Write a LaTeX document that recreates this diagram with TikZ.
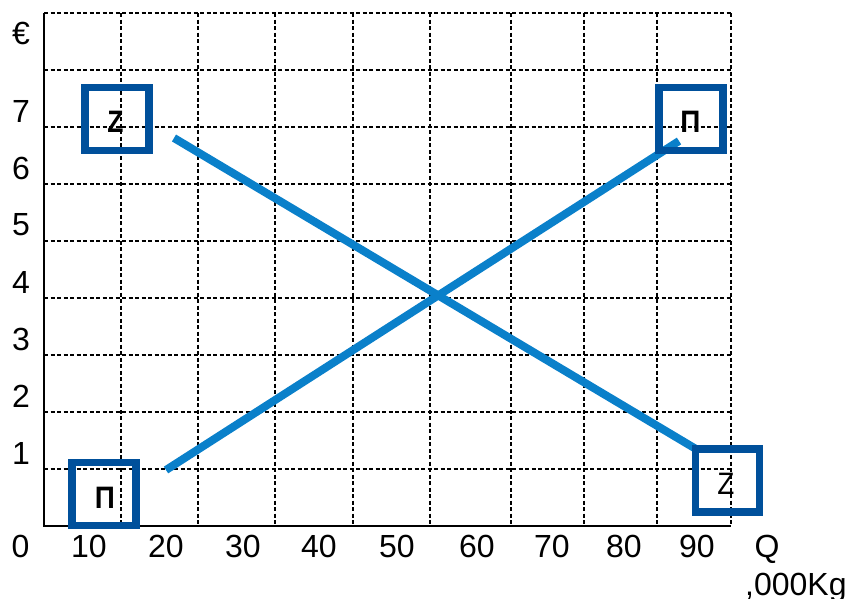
\documentclass[tikz,border=0pt]{standalone}
\usepackage{fontspec}
\setmainfont{Liberation Sans}
\usepackage{graphicx}
\definecolor{boxblue}{HTML}{00509B}
\definecolor{lineblue}{HTML}{0A80CA}
\begin{document}
\begin{tikzpicture}[x=1pt,y=-1pt,
  gridline/.style={black,dashed,line width=1.2pt,dash pattern=on 4pt off 2.5pt},
  axisline/.style={black,line width=2.5pt},
  lbl/.style={font=\fontsize{32}{32}\selectfont,inner sep=0pt},
  markbox/.style={draw=boxblue,line width=7.5pt,minimum width=64pt,minimum height=63pt,inner sep=0pt},
  boxtxt/.style={font=\fontsize{31}{31}\selectfont,inner sep=0pt},
  curve/.style={lineblue,line width=8pt}]
\useasboundingbox (0,0) rectangle (847,598);
% grid
\foreach \y in {13,70,127,184,241,298,355,412,469}
  \draw[gridline] (44,\y) -- (731,\y);
\foreach \x in {121,198,275,353,430,511,584,657,731}
  \draw[gridline] (\x,13) -- (\x,526);
% axes
\draw[axisline] (44,13) -- (44,526) -- (731,526);
% y labels
\node[lbl] (eur) at (21,33) {€};
\foreach \k/\y in {7/111.5,6/168,5/225,4/282,3/339,2/396,1/453}
  \node[lbl] (y\k) at (21,\y) {\k};
% x labels
\foreach \n/\x in {0/20.5,10/89,20/166,30/243,40/319,50/397,60/477,70/552,80/624,90/697}
  \node[lbl,anchor=base] (x\n) at (\x,557.5) {\n};
\node[lbl,anchor=base] (q) at (767,557.5) {Q};
\node[lbl,anchor=base west] (unit) at (745,595) {,000Kg};
% curves
\coordinate (d1) at (174,138);
\coordinate (d2) at (696,449);
\coordinate (s1) at (166,470);
\coordinate (s2) at (679,141);
\draw[curve] (d1) -- (d2);
\draw[curve] (s1) -- (s2);
% boxes
\node[markbox] (bz1) at (117,119) {};
\node[markbox] (bp1) at (691,119) {};
\node[markbox] (bp2) at (104,494) {};
\node[markbox] (bz2) at (727.5,480.5) {};
\node[boxtxt] (tz1) at (115.5,122) {\scalebox{0.85}[1]{\bfseries Z}};
\node[boxtxt] (tp1) at (690.5,122) {\scalebox{0.9}[1]{\bfseries П}};
\node[boxtxt] (tp2) at (105,497.5) {\scalebox{0.9}[1]{\bfseries П}};
\node[boxtxt] (tz2) at (726,483.5) {\scalebox{0.9}[1]{Z}};
\end{tikzpicture}
\end{document}
